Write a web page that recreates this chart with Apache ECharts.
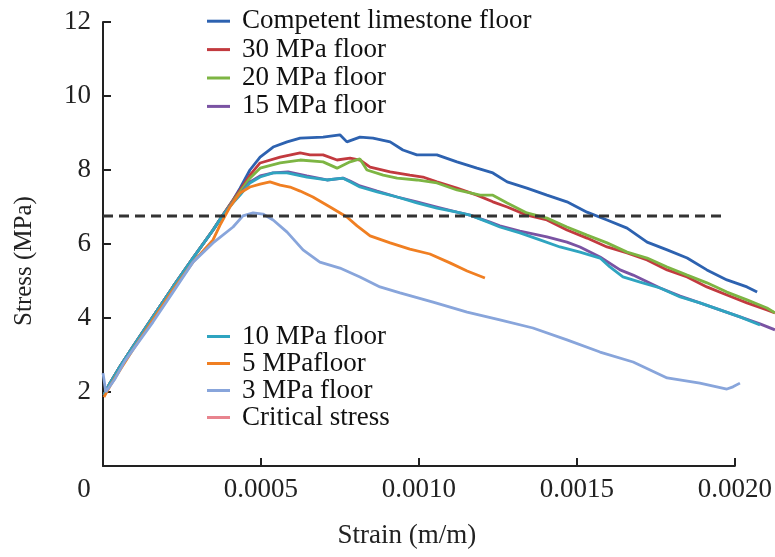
<!DOCTYPE html>
<html>
<head>
<meta charset="utf-8">
<script src="https://cdn.jsdelivr.net/npm/echarts@6/dist/echarts.min.js"></script>
<style>
  html, body { margin: 0; padding: 0; background: #fff; }
  #chart { width: 775px; height: 557px; }
</style>
</head>
<body>
<div id="chart"></div>
<script>
// strain (m/m), stress (MPa)
var limestone = [[0.000003,1.92],[0.000022,2.24],[0.000053,2.68],[0.000094,3.22],[0.000157,4.03],[0.000220,4.84],[0.000283,5.62],[0.000346,6.38],[0.000377,6.78],[0.000409,7.19],
  [0.000431,7.51],[0.000462,8.00],[0.000494,8.35],[0.000535,8.62],[0.000579,8.76],[0.000620,8.86],[0.000692,8.89],[0.000745,8.95],[0.000767,8.76],[0.000808,8.89],
  [0.000849,8.86],[0.000903,8.76],[0.000943,8.54],[0.000987,8.41],[0.001050,8.41],[0.001113,8.22],[0.001176,8.05],[0.001226,7.92],[0.001271,7.68],[0.001333,7.51],
  [0.001396,7.32],[0.001459,7.14],[0.001522,6.86],[0.001585,6.65],[0.001648,6.43],[0.001711,6.05],[0.001774,5.84],[0.001837,5.62],[0.001899,5.30],[0.001962,5.03],
  [0.002025,4.84],[0.002057,4.70]];
var mpa30 = [[0.000003,1.92],[0.000022,2.24],[0.000053,2.68],[0.000094,3.22],[0.000157,4.03],[0.000220,4.84],[0.000283,5.62],[0.000346,6.38],[0.000377,6.78],[0.000409,7.19],
  [0.000431,7.46],[0.000462,7.86],[0.000494,8.19],[0.000557,8.35],[0.000620,8.46],[0.000651,8.41],[0.000692,8.41],[0.000736,8.27],[0.000777,8.32],[0.000808,8.27],
  [0.000840,8.08],[0.000903,7.95],[0.000965,7.86],[0.001006,7.81],[0.001050,7.68],[0.001113,7.51],[0.001176,7.32],[0.001226,7.14],[0.001271,7.00],[0.001333,6.78],
  [0.001396,6.65],[0.001459,6.38],[0.001522,6.16],[0.001585,5.92],[0.001648,5.76],[0.001711,5.57],[0.001774,5.30],[0.001837,5.11],[0.001899,4.84],[0.001962,4.62],
  [0.002025,4.41],[0.002088,4.22],[0.002113,4.14]];
var mpa20 = [[0.000003,1.92],[0.000022,2.24],[0.000053,2.68],[0.000094,3.22],[0.000157,4.03],[0.000220,4.84],[0.000283,5.62],[0.000346,6.38],[0.000377,6.78],[0.000409,7.16],
  [0.000431,7.41],[0.000462,7.78],[0.000494,8.05],[0.000557,8.19],[0.000620,8.27],[0.000692,8.22],[0.000736,8.05],[0.000777,8.22],[0.000808,8.30],[0.000830,8.00],
  [0.000881,7.86],[0.000925,7.78],[0.000987,7.73],[0.001050,7.65],[0.001113,7.46],[0.001186,7.32],[0.001226,7.32],[0.001271,7.11],[0.001333,6.84],[0.001396,6.70],
  [0.001459,6.46],[0.001522,6.24],[0.001585,6.03],[0.001648,5.78],[0.001711,5.62],[0.001774,5.38],[0.001837,5.16],[0.001899,4.95],[0.001962,4.70],[0.002025,4.49],
  [0.002088,4.27],[0.002113,4.14]];
var mpa15 = [[0.000003,1.92],[0.000022,2.24],[0.000053,2.68],[0.000094,3.22],[0.000157,4.03],[0.000220,4.84],[0.000283,5.62],[0.000346,6.38],[0.000377,6.78],[0.000409,7.14],
  [0.000431,7.35],[0.000462,7.68],[0.000494,7.84],[0.000535,7.92],[0.000582,7.95],[0.000641,7.84],[0.000704,7.73],[0.000755,7.78],[0.000777,7.70],[0.000808,7.57],
  [0.000862,7.43],[0.000925,7.27],[0.000987,7.14],[0.001050,7.00],[0.001113,6.86],[0.001154,6.78],[0.001217,6.59],[0.001248,6.49],[0.001311,6.35],[0.001396,6.19],
  [0.001459,6.05],[0.001500,5.92],[0.001563,5.65],[0.001626,5.30],[0.001667,5.16],[0.001752,4.81],[0.001815,4.59],[0.001877,4.41],[0.001940,4.22],[0.002003,4.03],
  [0.002066,3.84],[0.002113,3.68]];
var mpa10 = [[0.000003,1.92],[0.000022,2.24],[0.000053,2.68],[0.000094,3.22],[0.000157,4.03],[0.000220,4.84],[0.000283,5.62],[0.000346,6.38],[0.000377,6.78],[0.000409,7.11],
  [0.000431,7.32],[0.000462,7.65],[0.000494,7.81],[0.000535,7.92],[0.000579,7.92],[0.000641,7.81],[0.000704,7.73],[0.000755,7.78],[0.000777,7.68],[0.000808,7.54],
  [0.000862,7.41],[0.000925,7.27],[0.000987,7.11],[0.001050,6.97],[0.001113,6.86],[0.001154,6.78],[0.001217,6.57],[0.001248,6.46],[0.001311,6.30],[0.001374,6.11],
  [0.001437,5.92],[0.001500,5.78],[0.001563,5.62],[0.001594,5.38],[0.001635,5.11],[0.001689,4.97],[0.001752,4.81],[0.001815,4.57],[0.001877,4.41],[0.001940,4.22],
  [0.002003,4.03],[0.002066,3.81]];
var mpa5 = [[0.000003,1.86],[0.000022,2.16],[0.000053,2.59],[0.000094,3.14],[0.000157,3.95],[0.000220,4.76],[0.000283,5.51],[0.000346,6.11],[0.000368,6.51],[0.000399,7.00],
  [0.000431,7.38],[0.000462,7.54],[0.000494,7.62],[0.000525,7.68],[0.000557,7.59],[0.000588,7.54],[0.000620,7.43],[0.000660,7.27],[0.000714,7.00],[0.000767,6.73],
  [0.000799,6.49],[0.000840,6.22],[0.000903,6.03],[0.000965,5.86],[0.001028,5.73],[0.001091,5.49],[0.001145,5.27],[0.001201,5.08]];
var mpa3 = [[0,2.51],[0.000009,2.00],[0.000038,2.36],[0.000069,2.84],[0.000094,3.14],[0.000157,3.89],[0.000220,4.70],[0.000283,5.51],[0.000346,6.03],[0.000409,6.46],
  [0.000440,6.76],[0.000472,6.84],[0.000503,6.81],[0.000535,6.65],[0.000579,6.32],[0.000629,5.84],[0.000682,5.51],[0.000745,5.35],[0.000808,5.11],[0.000871,4.84],
  [0.000934,4.68],[0.001038,4.43],[0.001145,4.16],[0.001248,3.95],[0.001352,3.73],[0.001459,3.41],[0.001563,3.08],[0.001667,2.81],[0.001774,2.38],[0.001877,2.24],
  [0.001962,2.08],[0.001981,2.14],[0.002003,2.24]];
var critical = [[0,6.76],[0.001956,6.76]];

var names = ['Competent limestone floor','30 MPa floor','20 MPa floor','15 MPa floor','10 MPa floor','5 MPafloor','3 MPa floor','Critical stress'];
var colors = ['#2d62b0','#c23a3f','#7db543','#7a53a3','#2fa4c0','#f07f22','#88a5db','#222222'];
var xTickLabels = ['0','0.0005','0.0010','0.0015','0.0020'];
var yTickLabels = ['','2','4','6','8','10','12'];

var font = 'Liberation Serif';
// visible axis spans 103..739 px for 0..0.002; curves run on past it to the page edge (775 px)
var axisLeft = 103, axisRight = 36, pageW = 775;
var xMax = 0.002;
var xMaxWide = xMax * (pageW - axisLeft) / (pageW - axisLeft - axisRight);

var chart = echarts.init(document.getElementById('chart'));

function curve(i, data) {
  return {
    name: names[i], type: 'line', data: data, showSymbol: false, symbol: 'none',
    xAxisIndex: 1, yAxisIndex: 1,
    itemStyle: { color: colors[i] },
    lineStyle: { color: colors[i], width: 2.8 }
  };
}

var series = [
  curve(0, limestone), curve(1, mpa30), curve(2, mpa20), curve(3, mpa15),
  curve(4, mpa10), curve(5, mpa5), curve(6, mpa3)
];
var crit = curve(7, critical);
crit.lineStyle = { color: '#333', width: 3, type: [10, 6] };
series.push(crit);

var legendText = { fontFamily: font, fontSize: 27, color: '#111', padding: [0, 0, 0, 7] };
var axisFont = { fontFamily: font, fontSize: 27, color: '#222' };

var option = {
  backgroundColor: '#fff',
  animation: false,
  grid: [
    { left: axisLeft, right: axisRight, top: 22, bottom: 91 },
    { left: axisLeft, right: 0, top: 22, bottom: 91 }
  ],
  legend: [
    {
      orient: 'vertical', left: 207, top: 7, padding: 0, itemGap: 0,
      icon: 'rect', itemWidth: 23, itemHeight: 3,
      textStyle: Object.assign({ lineHeight: 28.4 }, legendText),
      data: names.slice(0, 4)
    },
    {
      orient: 'vertical', left: 207, top: 323, padding: 0, itemGap: 0,
      icon: 'rect', itemWidth: 23, itemHeight: 3,
      textStyle: Object.assign({ lineHeight: 27 }, legendText),
      data: [names[4], names[5], names[6], { name: names[7], itemStyle: { color: '#e8848e' } }]
    }
  ],
  xAxis: [
    {
      gridIndex: 0, type: 'value', min: 0, max: xMax, interval: 0.0005,
      name: 'Strain (m/m)', nameLocation: 'middle', nameGap: 56,
      nameTextStyle: Object.assign({ padding: [0, 24, 0, 0] }, axisFont),
      axisLine: { lineStyle: { color: '#222', width: 2 } },
      axisTick: { inside: true, length: 8, lineStyle: { color: '#222', width: 2 } },
      splitLine: { show: false },
      axisLabel: Object.assign({
        margin: 10,
        formatter: function (v, i) {
          return i === 0 ? '{z|' + xTickLabels[0] + '}' : xTickLabels[i];
        },
        rich: { z: Object.assign({ padding: [0, 38, 0, 0] }, axisFont) }
      }, axisFont)
    },
    { gridIndex: 1, type: 'value', min: 0, max: xMaxWide, show: false }
  ],
  yAxis: [
    {
      gridIndex: 0, type: 'value', min: 0, max: 12, interval: 2,
      name: 'Stress (MPa)', nameLocation: 'middle', nameGap: 66,
      nameTextStyle: { fontFamily: font, fontSize: 25, color: '#222', padding: [0, 34, 0, 0] },
      axisLine: { show: true, lineStyle: { color: '#222', width: 2 } },
      axisTick: { show: true, inside: true, length: 8, lineStyle: { color: '#222', width: 2 } },
      splitLine: { show: false },
      axisLabel: Object.assign({
        margin: 12,
        formatter: function (v, i) { return yTickLabels[i]; }
      }, axisFont)
    },
    { gridIndex: 1, type: 'value', min: 0, max: 12, show: false }
  ],
  series: series
};

chart.setOption(option);
</script>
</body>
</html>
